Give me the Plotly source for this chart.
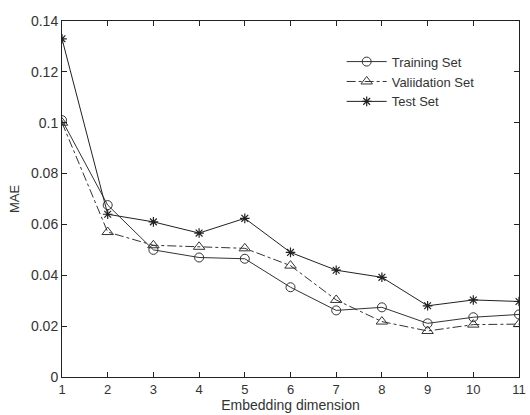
import plotly.graph_objects as go

dims = [1, 2, 3, 4, 5, 6, 7, 8, 9, 10, 11]
training = [0.101, 0.0676, 0.050, 0.047, 0.0465, 0.0353, 0.0262, 0.0274, 0.0211, 0.0235, 0.0246]
validation = [0.100, 0.057, 0.0518, 0.0512, 0.0506, 0.0438, 0.0303, 0.0218, 0.0181, 0.0206, 0.0208]
test = [0.133, 0.064, 0.061, 0.0566, 0.0624, 0.049, 0.042, 0.0392, 0.028, 0.0303, 0.0297]

FONT = "Liberation Sans, Arial"
TXT = "#333333"

fig = go.Figure()
fig.add_trace(go.Scatter(x=dims, y=training, name="Training Set", mode="lines+markers",
                         line=dict(color="#333333", width=1),
                         marker=dict(symbol="circle-open", size=9, color="#333333", line=dict(width=1))))
fig.add_trace(go.Scatter(x=dims, y=validation, name="Valiidation Set", mode="lines+markers",
                         line=dict(color="#333333", width=1, dash="dashdot"),
                         marker=dict(symbol="triangle-up-open", size=10, color="#333333", line=dict(width=1))))
fig.add_trace(go.Scatter(x=dims, y=test, name="Test Set", mode="lines+markers",
                         line=dict(color="#222222", width=1),
                         marker=dict(symbol="asterisk-open", size=8, color="#222222", line=dict(width=1.2))))

axis_common = dict(showgrid=False, zeroline=False, showline=True, linecolor="#222222", linewidth=1,
                   mirror="ticks", ticks="inside", ticklen=5, tickcolor="#222222",
                   ticklabeloverflow="allow")
fig.update_xaxes(range=[1, 11], tickvals=dims,
                 tickfont=dict(family=FONT, size=13, color=TXT),
                 title=dict(text="Embedding dimension", standoff=0,
                            font=dict(family=FONT, size=14, color=TXT)), **axis_common)
fig.update_yaxes(range=[0, 0.14], dtick=0.02, tickformat="~g",
                 tickfont=dict(family=FONT, size=14, color=TXT),
                 title=dict(text="MAE", standoff=8,
                            font=dict(family=FONT, size=13, color=TXT)), **axis_common)

fig.update_layout(width=530, height=415, margin=dict(l=62, r=4, t=21, b=38),
                  paper_bgcolor="white", plot_bgcolor="white", showlegend=True,
                  legend=dict(x=0.612, y=0.928, xanchor="left", yanchor="top", bgcolor="rgba(255,255,255,0)",
                              font=dict(family=FONT, size=13, color=TXT),
                              tracegroupgap=0, itemwidth=40))
fig.write_html("out.html", config={"displayModeBar": False},
               post_script="document.body.style.margin='0px';")
